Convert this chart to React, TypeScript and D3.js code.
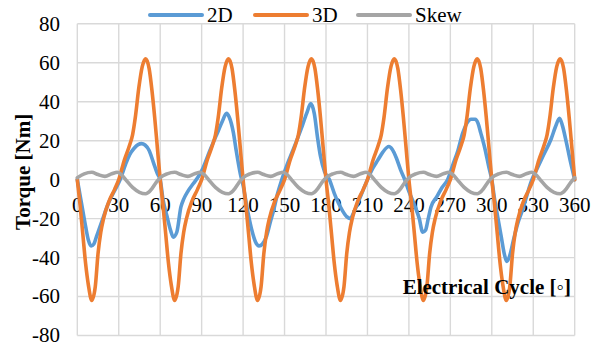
import React from "react";
import * as d3 from "d3";

const xTicks = [0, 30, 60, 90, 120, 150, 180, 210, 240, 270, 300, 330, 360];
const yTicks = [-80, -60, -40, -20, 0, 20, 40, 60, 80];
const seriesNames = ["2D", "3D", "Skew"];
const seriesColors = ["#5B9BD5", "#ED7D31", "#A5A5A5"];

const data2D: [number, number][] = [
  [0, 0], [2, -8], [4, -16], [6, -24], [8, -31], [10, -34], [12, -33], [14, -29], [16, -25], [19, -19], [22, -13], [26, -7], [31, 0], [35, 8], [38, 13], [41, 16], [44, 18], [46.5, 18.5], [49, 17.8], [52, 15], [55, 9], [58, 3], [60, 0],
  [62, -10], [65, -19], [67.5, -26], [69.5, -29.5], [72, -27], [75, -14], [77, -10], [80, -6], [84, -2], [88, 2], [91, 6], [96, 15], [102, 25], [105, 30], [108, 34], [110, 32], [113, 24], [115, 15], [118, 3], [120, -3],
  [123, -15], [126, -25], [129, -32], [131.5, -34], [134, -33], [137, -29], [140, -21], [142, -16], [145, -7], [148, 0], [152, 8], [156, 15], [162, 26], [166, 34], [169, 39], [171.5, 34], [174, 21], [176, 12], [179, 4], [182.5, 0],
  [186, -7], [189, -12], [192, -16], [195, -19], [197.5, -20], [200, -17], [203, -12], [206.5, -6], [210, 0], [214, 6], [217.5, 10], [221, 14], [225.5, 17], [228, 15.5], [231, 11], [234, 5], [237, 0], [240, -6],
  [244, -13], [247.5, -20], [250, -27], [252, -26], [254, -20], [256, -14], [260, -9], [264, -4], [268, 0], [272, 8], [275.5, 15], [279, 24], [282, 29], [285, 31], [288, 31], [290, 29], [292, 24], [295, 16], [298, 6], [300, 0],
  [302, -10], [304, -18], [307, -30], [309, -38], [311, -42], [313, -39], [316, -30], [319, -22], [322.5, -15], [325, -9], [328.5, -1], [333, 6], [337, 12], [343, 21], [346, 27], [349, 31.5], [351, 28], [354, 19], [357, 9], [360, 0],
];

const data3D: [number, number][] = [
  [0, 0], [2, -13], [4, -28], [6, -43], [8, -54], [10.5, -62], [13, -55], [15, -38], [17, -27], [19, -20], [23, -11], [27, -5], [30, 0], [34, 10], [38, 18], [40, 23], [42, 32], [44.5, 47], [47, 58], [49.5, 62], [52, 57], [54, 46], [56, 32], [58, 16], [60, 0],
  [62, -13], [64, -28], [66, -43], [68, -54], [70.5, -62], [73, -55], [75, -38], [77, -27], [79, -20], [83, -11], [87, -5], [90, 0], [94, 10], [98, 18], [100, 23], [102, 32], [104.5, 47], [107, 58], [109.5, 62], [112, 57], [114, 46], [116, 32], [118, 16], [120, 0],
  [122, -13], [124, -28], [126, -43], [128, -54], [130.5, -62], [133, -55], [135, -38], [137, -27], [139, -20], [143, -11], [147, -5], [150, 0], [154, 10], [158, 18], [160, 23], [162, 32], [164.5, 47], [167, 58], [169.5, 62], [172, 57], [174, 46], [176, 32], [178, 16], [180, 0],
  [182, -13], [184, -28], [186, -43], [188, -54], [190.5, -62], [193, -55], [195, -38], [197, -27], [199, -20], [203, -11], [207, -5], [210, 0], [214, 10], [218, 18], [220, 23], [222, 32], [224.5, 47], [227, 58], [229.5, 62], [232, 57], [234, 46], [236, 32], [238, 16], [240, 0],
  [242, -13], [244, -28], [246, -43], [248, -54], [250.5, -62], [253, -55], [255, -38], [257, -27], [259, -20], [263, -11], [267, -5], [270, 0], [274, 10], [278, 18], [280, 23], [282, 32], [284.5, 47], [287, 58], [289.5, 62], [292, 57], [294, 46], [296, 32], [298, 16], [300, 0],
  [302, -13], [304, -28], [306, -43], [308, -54], [310.5, -62], [313, -55], [315, -38], [317, -27], [319, -20], [323, -11], [327, -5], [330, 0], [334, 10], [338, 18], [340, 23], [342, 32], [344.5, 47], [347, 58], [349.5, 62], [352, 57], [354, 46], [356, 32], [358, 16], [360, 0],
];

const dataSkew: [number, number][] = [
  [0, 1], [5, 3], [10.5, 3.8], [15, 2.6], [20, 1.7], [25, 3], [29, 3.8], [32, 2.5], [35, 0], [40, -4], [45, -6.5], [49.5, -7.2], [53, -5.5], [57, -1.5], [60, 1],
  [65, 3], [70.5, 3.8], [75, 2.6], [80, 1.7], [85, 3], [89, 3.8], [92, 2.5], [95, 0], [100, -4], [105, -6.5], [109.5, -7.2], [113, -5.5], [117, -1.5], [120, 1],
  [125, 3], [130.5, 3.8], [135, 2.6], [140, 1.7], [145, 3], [149, 3.8], [152, 2.5], [155, 0], [160, -4], [165, -6.5], [169.5, -7.2], [173, -5.5], [177, -1.5], [180, 1],
  [185, 3], [190.5, 3.8], [195, 2.6], [200, 1.7], [205, 3], [209, 3.8], [212, 2.5], [215, 0], [220, -4], [225, -6.5], [229.5, -7.2], [233, -5.5], [237, -1.5], [240, 1],
  [245, 3], [250.5, 3.8], [255, 2.6], [260, 1.7], [265, 3], [269, 3.8], [272, 2.5], [275, 0], [280, -4], [285, -6.5], [289.5, -7.2], [293, -5.5], [297, -1.5], [300, 1],
  [305, 3], [310.5, 3.8], [315, 2.6], [320, 1.7], [325, 3], [329, 3.8], [332, 2.5], [335, 0], [340, -4], [345, -6.5], [349.5, -7.2], [353, -5.5], [357, -1.5], [360, 1],
];

const FONT = "'Liberation Serif', 'Times New Roman', Tinos, 'DejaVu Serif', 'Noto Serif', serif";

export default function App() {
  const W = 601, H = 345;
  const x = d3.scaleLinear().domain([0, 360]).range([77.3, 574.7]);
  const y = d3.scaleLinear().domain([-80, 80]).range([335.5, 23.8]);
  const line = d3
    .line<[number, number]>()
    .x((d) => x(d[0]))
    .y((d) => y(d[1]))
    .curve(d3.curveMonotoneX);
  const series = [data2D, data3D, dataSkew];
  const legendX = [150, 255, 358];

  return (
    <svg width={W} height={H} style={{ position: "absolute", left: 0, top: 0, background: "#fff" }}>
      <rect width={W} height={H} fill="#fff" />
      {yTicks.map((t) => (
        <line key={"gy" + t} x1={x(0)} x2={x(360)} y1={y(t)} y2={y(t)} stroke="#D9D9D9" strokeWidth={1.4} />
      ))}
      {xTicks.map((t) => (
        <line key={"gx" + t} x1={x(t)} x2={x(t)} y1={y(80)} y2={y(-80)} stroke="#D9D9D9" strokeWidth={1.4} />
      ))}
      {yTicks.map((t) => (
        <text key={"ty" + t} x={60} y={y(t)} dy="0.33em" textAnchor="end" fontFamily={FONT} fontSize={21} fill="#000">
          {t}
        </text>
      ))}
      {xTicks.map((t) => (
        <text key={"tx" + t} x={x(t)} y={y(0) + 32} textAnchor="middle" fontFamily={FONT} fontSize={21} fill="#000">
          {t}
        </text>
      ))}
      {series.map((s, i) => (
        <path key={"s" + i} d={line(s) || ""} fill="none" stroke={seriesColors[i]} strokeWidth={3.6} strokeLinejoin="round" strokeLinecap="round" />
      ))}
      {seriesNames.map((n, i) => (
        <g key={"lg" + i}>
          <line x1={legendX[i]} x2={legendX[i] + 52} y1={15} y2={15} stroke={seriesColors[i]} strokeWidth={4} strokeLinecap="round" />
          <text x={legendX[i] + 57} y={22} fontFamily={FONT} fontSize={21} fill="#000">
            {n}
          </text>
        </g>
      ))}
      <text transform={`translate(30,${y(4)}) rotate(-90)`} textAnchor="middle" fontFamily={FONT} fontSize={21} fontWeight="bold" fill="#000">
        Torque [Nm]
      </text>
      <text x={571} y={294} textAnchor="end" fontFamily={FONT} fontSize={21} fontWeight="bold" fill="#000">
        Electrical Cycle [<tspan fontWeight="normal">◦</tspan>]
      </text>
    </svg>
  );
}
